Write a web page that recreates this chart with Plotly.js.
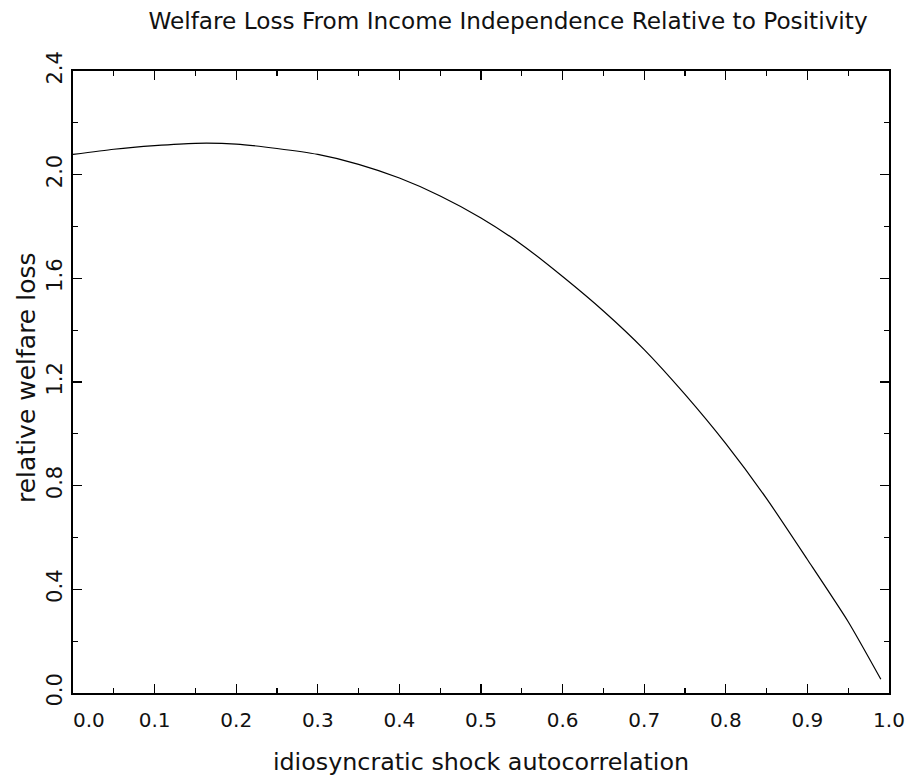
<!DOCTYPE html>
<html>
<head>
<meta charset="utf-8">
<script src="https://cdn.plot.ly/plotly-3.0.1.min.js"></script>
<style>
  html, body { margin: 0; padding: 0; background: #fff; }
  #chart { width: 912px; height: 776px; }
</style>
</head>
<body>
<div id="chart"></div>
<script>
// ---- data ----
const autocorrelation = [0, 0.05, 0.1, 0.15, 0.2, 0.25, 0.3, 0.35, 0.4, 0.45, 0.5,
  0.55, 0.6, 0.65, 0.7, 0.75, 0.8, 0.85, 0.9, 0.95, 0.99];
const relativeWelfareLoss = [2.078, 2.098, 2.112, 2.121, 2.118, 2.101, 2.078, 2.040, 1.987, 1.918, 1.833,
  1.730, 1.607, 1.474, 1.325, 1.152, 0.962, 0.750, 0.515, 0.275, 0.053];

const xTickValues = [0, 0.1, 0.2, 0.3, 0.4, 0.5, 0.6, 0.7, 0.8, 0.9, 1.0];
const xTickLabels = ['0.0', '0.1', '0.2', '0.3', '0.4', '0.5', '0.6', '0.7', '0.8', '0.9', '1.0'];
const yTickValues = [0, 0.4, 0.8, 1.2, 1.6, 2.0, 2.4];
const yTickLabels = ['0.0', '0.4', '0.8', '1.2', '1.6', '2.0', '2.4'];

const chartTitle = 'Welfare Loss From Income Independence Relative to Positivity';
const xTitle = 'idiosyncratic shock autocorrelation';
const yTitle = 'relative welfare loss';

// ---- styling ----
const FONT = '"DejaVu Sans", sans-serif';
const NB = '\u00a0';
// first x label sits just right of the y axis in the reference
const xTickText = xTickLabels.map((t, i) => i === 0 ? NB.repeat(5) + t : t);

const trace = {
  type: 'scatter',
  mode: 'lines',
  x: autocorrelation,
  y: relativeWelfareLoss,
  line: { color: '#000', width: 1.2, shape: 'spline', smoothing: 0.6 },
  hoverinfo: 'skip'
};

const axisCommon = {
  showgrid: false,
  zeroline: false,
  showline: true,
  linecolor: '#000',
  linewidth: 2,
  mirror: 'ticks',
  ticks: 'inside',
  ticklen: 9,
  tickwidth: 1.3,
  tickcolor: '#000',
  tickfont: { family: FONT, size: 20, color: '#111' }
};

const layout = {
  width: 912,
  height: 776,
  margin: { l: 73, r: 23, t: 71, b: 83 },
  paper_bgcolor: '#fff',
  plot_bgcolor: '#fff',
  showlegend: false,
  title: {
    text: chartTitle,
    font: { family: FONT, size: 23.2, color: '#111' },
    xref: 'container', yref: 'container',
    x: 508 / 912, xanchor: 'center',
    y: 1 - 21 / 776, yanchor: 'middle'
  },
  xaxis: Object.assign({}, axisCommon, {
    range: [0, 1],
    tickmode: 'array',
    tickvals: xTickValues,
    ticktext: xTickText,
    ticklabelstandoff: 8,
    minor: { dtick: 0.05, ticks: 'inside', ticklen: 5, tickwidth: 1.3, tickcolor: '#000', showgrid: false },
    title: { text: xTitle, font: { family: FONT, size: 23.8, color: '#111' }, standoff: 28 }
  }),
  yaxis: Object.assign({}, axisCommon, {
    range: [0, 2.4],
    tickmode: 'array',
    tickvals: yTickValues,
    ticktext: yTickLabels,
    tickangle: -90,
    tickfont: { family: FONT, size: 21, color: '#111' },
    ticklabelstandoff: 1,
    minor: { dtick: 0.2, ticks: 'inside', ticklen: 5, tickwidth: 1.3, tickcolor: '#000', showgrid: false }
  }),
  annotations: [{
    text: yTitle,
    xref: 'paper', yref: 'paper',
    x: -46 / 816, y: (693 - 378) / 622,
    xanchor: 'center', yanchor: 'middle',
    textangle: -90,
    showarrow: false,
    font: { family: FONT, size: 25, color: '#111' }
  }]
};

Plotly.newPlot('chart', [trace], layout, { staticPlot: true, displayModeBar: false });
</script>
</body>
</html>
